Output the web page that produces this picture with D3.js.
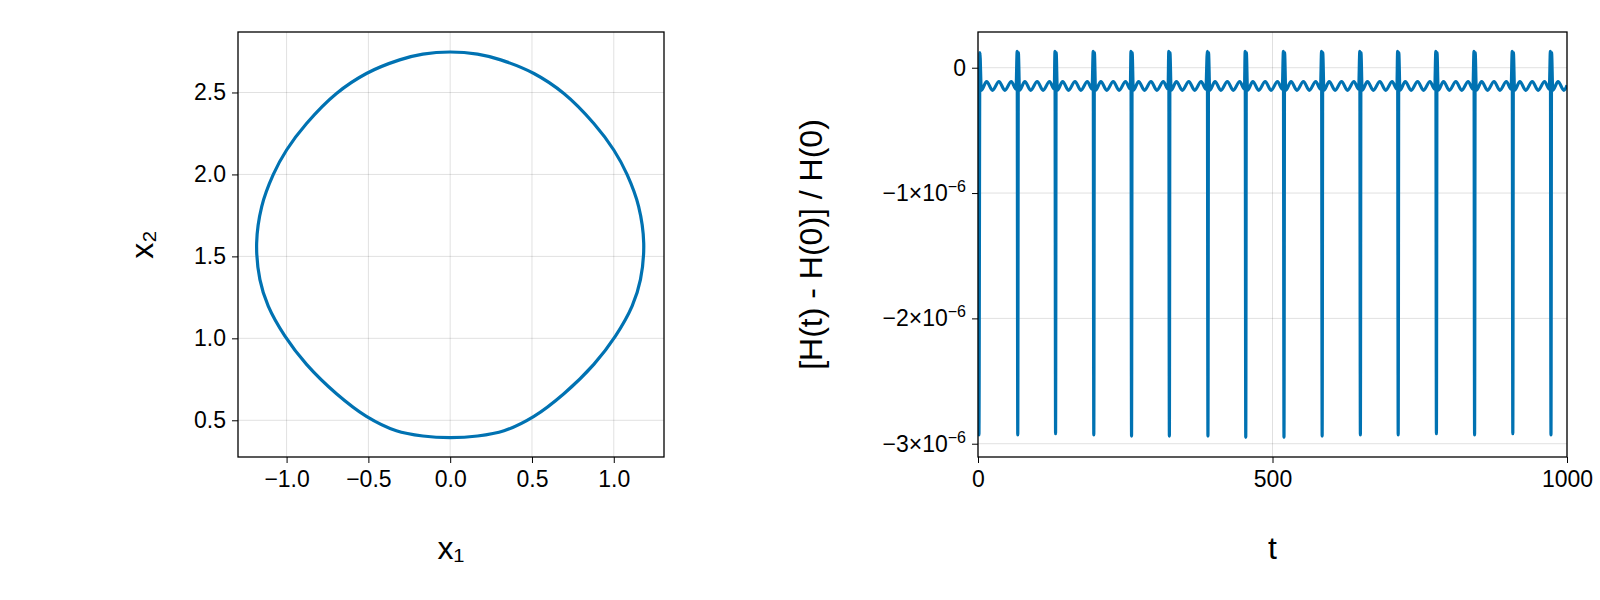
<!DOCTYPE html>
<html>
<head>
<meta charset="utf-8">
<script src="https://cdn.jsdelivr.net/npm/d3@7"></script>
<style>
  body { margin: 0; background: #fff; }
  text { font-family: "Liberation Sans", Arial, sans-serif; fill: #000; }
</style>
</head>
<body>
<div id="chart"></div>
<script>
// phase portrait (x1, x2), clockwise from the top
var orbitX1 = [0, 0.167, 0.309, 0.512, 0.695, 0.878, 1.0, 1.081, 1.152, 1.183, 1.163, 1.112, 1.01, 0.878, 0.695, 0.512, 0.329, 0.167,
  0, -0.167, -0.329, -0.512, -0.695, -0.878, -1.01, -1.112, -1.163, -1.183, -1.152, -1.081, -1.0, -0.878, -0.695, -0.512, -0.309, -0.167];
var orbitX2 = [2.747, 2.734, 2.699, 2.616, 2.494, 2.311, 2.149, 2.0, 1.804, 1.581, 1.358, 1.196, 1.013, 0.841, 0.662, 0.524, 0.436, 0.404,
  0.394, 0.404, 0.436, 0.524, 0.662, 0.841, 1.013, 1.196, 1.358, 1.581, 1.804, 2.0, 2.149, 2.311, 2.494, 2.616, 2.699, 2.734];

// energy error, t and value in units of 1e-6
var energyT = [
  0, 1.6, 3.2, 5.6, 14.6, 24.6, 35.6, 45.6, 56.6, 64.6,
  66.5, 67.5, 68.5, 70.5, 79.5, 89.5, 100.5, 110.5, 121.5, 129.5,
  130.7, 131.7, 132.7, 134.7, 143.7, 153.7, 164.7, 174.7, 185.7, 193.7,
  195.6, 196.6, 197.6, 199.6, 208.6, 218.6, 229.6, 239.6, 250.6, 258.6,
  259.7, 260.7, 261.7, 263.7, 272.7, 282.7, 293.7, 303.7, 314.7, 322.7,
  323.9, 324.9, 325.9, 327.9, 336.9, 346.9, 357.9, 367.9, 378.9, 386.9,
  389.4, 390.4, 391.4, 393.4, 402.4, 412.4, 423.4, 433.4, 444.4, 452.4,
  453.6, 454.6, 455.6, 457.6, 466.6, 476.6, 487.6, 497.6, 508.6, 516.6,
  518.5, 519.5, 520.5, 522.5, 531.5, 541.5, 552.5, 562.5, 573.5, 581.5,
  583.3, 584.3, 585.3, 587.3, 596.3, 606.3, 617.3, 627.3, 638.3, 646.3,
  648.2, 649.2, 650.2, 652.2, 661.2, 671.2, 682.2, 692.2, 703.2, 711.2,
  712.4, 713.4, 714.4, 716.4, 725.4, 735.4, 746.4, 756.4, 767.4, 775.4,
  777.3, 778.3, 779.3, 781.3, 790.3, 800.3, 811.3, 821.3, 832.3, 840.3,
  842.1, 843.1, 844.1, 846.1, 855.1, 865.1, 876.1, 886.1, 897.1, 905.1,
  907, 908, 909, 911, 920, 930, 941, 951, 962, 970,
  971.8, 972.8, 973.8, 975.8, 984.8, 994.8, 1000
];
var energyErr = [
  0, -2.93, 0.12, -0.18, -0.11, -0.18, -0.11, -0.18, -0.11, -0.17,
  0.13, -2.93, 0.12, -0.18, -0.11, -0.18, -0.11, -0.18, -0.11, -0.17,
  0.13, -2.92, 0.12, -0.18, -0.11, -0.18, -0.11, -0.18, -0.11, -0.17,
  0.13, -2.93, 0.12, -0.18, -0.11, -0.18, -0.11, -0.18, -0.11, -0.17,
  0.13, -2.94, 0.12, -0.18, -0.11, -0.18, -0.11, -0.18, -0.11, -0.17,
  0.13, -2.94, 0.12, -0.18, -0.11, -0.18, -0.11, -0.18, -0.11, -0.17,
  0.13, -2.94, 0.12, -0.18, -0.11, -0.18, -0.11, -0.18, -0.11, -0.17,
  0.13, -2.95, 0.12, -0.18, -0.11, -0.18, -0.11, -0.18, -0.11, -0.17,
  0.13, -2.95, 0.12, -0.18, -0.11, -0.18, -0.11, -0.18, -0.11, -0.17,
  0.13, -2.94, 0.12, -0.18, -0.11, -0.18, -0.11, -0.18, -0.11, -0.17,
  0.13, -2.93, 0.12, -0.18, -0.11, -0.18, -0.11, -0.18, -0.11, -0.17,
  0.13, -2.93, 0.12, -0.18, -0.11, -0.18, -0.11, -0.18, -0.11, -0.17,
  0.13, -2.92, 0.12, -0.18, -0.11, -0.18, -0.11, -0.18, -0.11, -0.17,
  0.13, -2.93, 0.12, -0.18, -0.11, -0.18, -0.11, -0.18, -0.11, -0.17,
  0.13, -2.92, 0.12, -0.18, -0.11, -0.18, -0.11, -0.18, -0.11, -0.17,
  0.13, -2.93, 0.12, -0.18, -0.11, -0.18, -0.14
];

var leftXTicks = [-1.0, -0.5, 0.0, 0.5, 1.0];
var leftYTicks = [0.5, 1.0, 1.5, 2.0, 2.5];
var rightXTicks = [0, 500, 1000];
var rightYTicks = [0, -1, -2, -3];

var blue = "#0072b2";

var svg = d3.select("#chart").append("svg")
  .attr("width", 1600)
  .attr("height", 600);

// Makie-like axes: outward ticks, light grid, black frame
function drawPanel(box, x, y, xTicks, yTicks, xFmt, yFmt) {
  var g = svg.append("g");
  g.selectAll(".gx").data(xTicks).enter().append("line")
    .attr("x1", d => x(d)).attr("x2", d => x(d))
    .attr("y1", box.top).attr("y2", box.bottom)
    .attr("stroke", "rgba(0,0,0,0.12)").attr("stroke-width", 1);
  g.selectAll(".gy").data(yTicks).enter().append("line")
    .attr("y1", d => y(d)).attr("y2", d => y(d))
    .attr("x1", box.left).attr("x2", box.right)
    .attr("stroke", "rgba(0,0,0,0.12)").attr("stroke-width", 1);

  var bottomAxis = d3.axisBottom(x).tickValues(xTicks).tickSize(6).tickPadding(8).tickFormat(xFmt);
  var leftAxis = d3.axisLeft(y).tickValues(yTicks).tickSize(6).tickPadding(6).tickFormat(yFmt);

  var ax = svg.append("g")
    .attr("transform", `translate(0, ${box.bottom})`)
    .call(bottomAxis);
  var ay = svg.append("g")
    .attr("transform", `translate(${box.left}, 0)`)
    .call(leftAxis);
  [ax, ay].forEach(function(a) {
    a.select(".domain").remove();
    a.selectAll("line").attr("stroke", "#000");
    a.selectAll("text").attr("font-size", 23).attr("font-family", "Liberation Sans, Arial, sans-serif");
  });
  return { g: g, ay: ay };
}

function drawFrame(box) {
  svg.append("rect")
    .attr("x", box.left).attr("y", box.top)
    .attr("width", box.right - box.left).attr("height", box.bottom - box.top)
    .attr("fill", "none").attr("stroke", "#000").attr("stroke-width", 1.3);
}

// left panel
var boxL = { left: 238, right: 664, top: 32, bottom: 457 };
var xL = d3.scaleLinear().domain([-1.297, 1.307]).range([boxL.left, boxL.right]);
var yL = d3.scaleLinear().domain([0.276, 2.869]).range([boxL.bottom, boxL.top]);
drawPanel(boxL, xL, yL, leftXTicks, leftYTicks,
  d => d3.format(".1f")(d).replace("-", "\u2212"),
  d => d3.format(".1f")(d));

var orbit = orbitX1.map((v, i) => [v, orbitX2[i]]);
svg.append("path")
  .datum(orbit)
  .attr("fill", "none")
  .attr("stroke", blue)
  .attr("stroke-width", 3.2)
  .attr("d", d3.line().x(d => xL(d[0])).y(d => yL(d[1])).curve(d3.curveCatmullRomClosed.alpha(0.5)));
drawFrame(boxL);

svg.append("text")
  .attr("x", (boxL.left + boxL.right) / 2).attr("y", 559)
  .attr("text-anchor", "middle").attr("font-size", 32)
  .text("x\u2081");
svg.append("text")
  .attr("transform", `translate(153, ${(boxL.top + boxL.bottom) / 2}) rotate(-90)`)
  .attr("text-anchor", "middle").attr("font-size", 32)
  .text("x\u2082");

// right panel
var boxR = { left: 978, right: 1567, top: 32, bottom: 457 };
var xR = d3.scaleLinear().domain([0, 1000]).range([boxR.left, boxR.right]);
var yR = d3.scaleLinear().domain([-3.106, 0.285]).range([boxR.bottom, boxR.top]);
var pr = drawPanel(boxR, xR, yR, rightXTicks, rightYTicks, d => d, d => "");

// y tick labels like −1×10⁻⁶
pr.ay.selectAll(".tick text").each(function(d) {
  var t = d3.select(this);
  if (d === 0) { t.text("0"); return; }
  t.append("tspan").text("\u2212" + (-d) + "\u00d710");
  t.append("tspan").attr("font-size", 16).attr("dy", -9).text("\u22126");
});

svg.append("clipPath").attr("id", "clipR").append("rect")
  .attr("x", boxR.left).attr("y", boxR.top)
  .attr("width", boxR.right - boxR.left).attr("height", boxR.bottom - boxR.top);

var energy = energyT.map((t, i) => [t, energyErr[i]]);
svg.append("path")
  .datum(energy)
  .attr("clip-path", "url(#clipR)")
  .attr("fill", "none")
  .attr("stroke", blue)
  .attr("stroke-width", 3.2)
  .attr("stroke-linejoin", "round")
  .attr("d", d3.line().x(d => xR(d[0])).y(d => yR(d[1])).curve(d3.curveMonotoneX));
drawFrame(boxR);

svg.append("text")
  .attr("x", (boxR.left + boxR.right) / 2).attr("y", 559)
  .attr("text-anchor", "middle").attr("font-size", 32)
  .text("t");
svg.append("text")
  .attr("transform", `translate(822, ${(boxR.top + boxR.bottom) / 2}) rotate(-90)`)
  .attr("text-anchor", "middle").attr("font-size", 32)
  .text("[H(t) - H(0)] / H(0)");
</script>
</body>
</html>
